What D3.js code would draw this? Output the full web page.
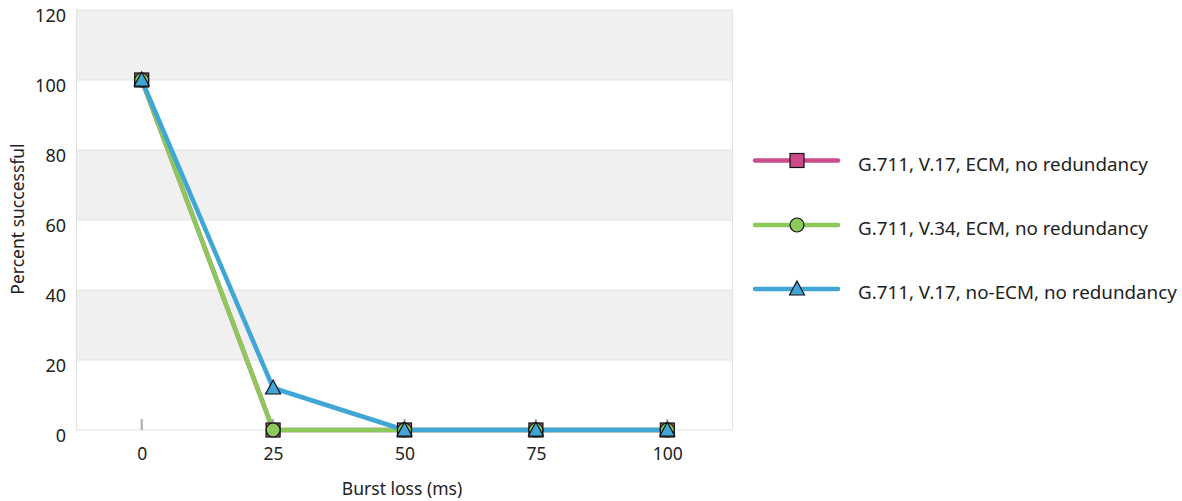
<!DOCTYPE html>
<html><head><meta charset="utf-8">
<script src="https://cdn.jsdelivr.net/npm/d3@7"></script>
<style>body{margin:0;background:#fff;} text{font-family:"Noto Sans",Lato,sans-serif;fill:#222;}</style>
</head><body>
<svg id="c" width="1182" height="501"></svg>
<script>
const categories = ["0","25","50","75","100"];
const seriesNames = ["G.711, V.17, ECM, no redundancy","G.711, V.34, ECM, no redundancy","G.711, V.17, no-ECM, no redundancy"];
const seriesA = [100,0,0,0,0];
const seriesB = [100,0,0,0,0];
const seriesC = [100,12,0,0,0];
const yTicks = [0,20,40,60,80,100,120];
const colors = ["#cc4b8b","#8dc85b","#3fa6d5"];
const shapes = ["square","circle","triangle"];
const allSeries = [seriesA,seriesB,seriesC];
const FONT = "'Noto Sans',Lato,sans-serif";

const svg = d3.select("#c");
const L=76,R=733,T=10,B=430;
const x = d3.scalePoint().domain(categories).range([L,R]).padding(0.5);
const y = d3.scaleLinear().domain([0,120]).range([B,T]);

// bands
const g = svg.append("g");
for(let i=0;i<yTicks.length-1;i++){
  const a=yTicks[i],b=yTicks[i+1];
  g.append("rect").attr("x",L).attr("width",R-L).attr("y",y(b)).attr("height",y(a)-y(b))
   .attr("fill", (i%2===1)?"#f0f0f0":"#ffffff");
}
// gridlines
yTicks.forEach(t=>{
  g.append("line").attr("x1",L).attr("x2",R).attr("y1",y(t)).attr("y2",y(t)).attr("stroke","#e2e2e2").attr("stroke-width",1);
});
g.append("line").attr("x1",L+0.5).attr("x2",L+0.5).attr("y1",T).attr("y2",B).attr("stroke","#e2e2e2");
g.append("line").attr("x1",R-0.5).attr("x2",R-0.5).attr("y1",T).attr("y2",B).attr("stroke","#e2e2e2");

// y axis labels
const yAxis = d3.axisLeft(y).tickValues(yTicks).tickSize(0).tickPadding(10);
const ya = svg.append("g").attr("transform",`translate(${L},0)`).call(yAxis);
ya.select(".domain").remove();
ya.selectAll("text").attr("font-size",18).attr("dy",0).attr("y",11.5).style("font-family",FONT).attr("fill","#222");

// x axis
const xAxis = d3.axisBottom(x).tickSize(0).tickPadding(16);
const xa = svg.append("g").attr("transform",`translate(0,${B})`).call(xAxis);
xa.select(".domain").remove();
xa.selectAll("text").attr("font-size",17.5).attr("dy",0).attr("y",30).style("font-family",FONT).attr("fill","#222");
categories.forEach(c=>{
  svg.append("line").attr("x1",x(c)).attr("x2",x(c)).attr("y1",B-11).attr("y2",B).attr("stroke","#aaa").attr("stroke-width",2);
});

svg.append("text").attr("x",402).attr("y",495).attr("text-anchor","middle").attr("font-size",17.5).text("Burst loss (ms)");
svg.append("text").attr("transform",`translate(23.5,219) rotate(-90)`).attr("text-anchor","middle").attr("font-size",17.5).text("Percent successful");

function marker(sel, shape, color, cx, cy){
  if(shape==="square") sel.append("rect").attr("x",cx-7).attr("y",cy-7).attr("width",14).attr("height",14).attr("fill",color).attr("stroke","#111").attr("stroke-width",1.2);
  else if(shape==="circle") sel.append("circle").attr("cx",cx).attr("cy",cy).attr("r",7).attr("fill",color).attr("stroke","#111").attr("stroke-width",1.2);
  else sel.append("path").attr("d",`M${cx},${cy-8}L${cx+7.5},${cy+6}L${cx-7.5},${cy+6}Z`).attr("fill",color).attr("stroke","#111").attr("stroke-width",1.2);
}

const line = d3.line().x((d,i)=>x(categories[i])).y(d=>y(d));
allSeries.forEach((s,k)=>{
  svg.append("path").datum(s).attr("d",line).attr("fill","none").attr("stroke",colors[k]).attr("stroke-width",4.5).attr("stroke-linejoin","round");
});
allSeries.forEach((s,k)=>{
  const mg = svg.append("g");
  s.forEach((v,i)=>marker(mg, shapes[k], colors[k], x(categories[i]), y(v)));
});

// legend
const ly=[160.5,225,289];
seriesNames.forEach((n,k)=>{
  svg.append("line").attr("x1",755).attr("x2",838).attr("y1",ly[k]).attr("y2",ly[k]).attr("stroke",colors[k]).attr("stroke-width",4.5).attr("stroke-linecap","round");
  marker(svg, shapes[k], colors[k], 797, ly[k]);
  svg.append("text").attr("x",858).attr("y",ly[k]+10).attr("font-size",18.8).text(n);
});
</script>
</body></html>
